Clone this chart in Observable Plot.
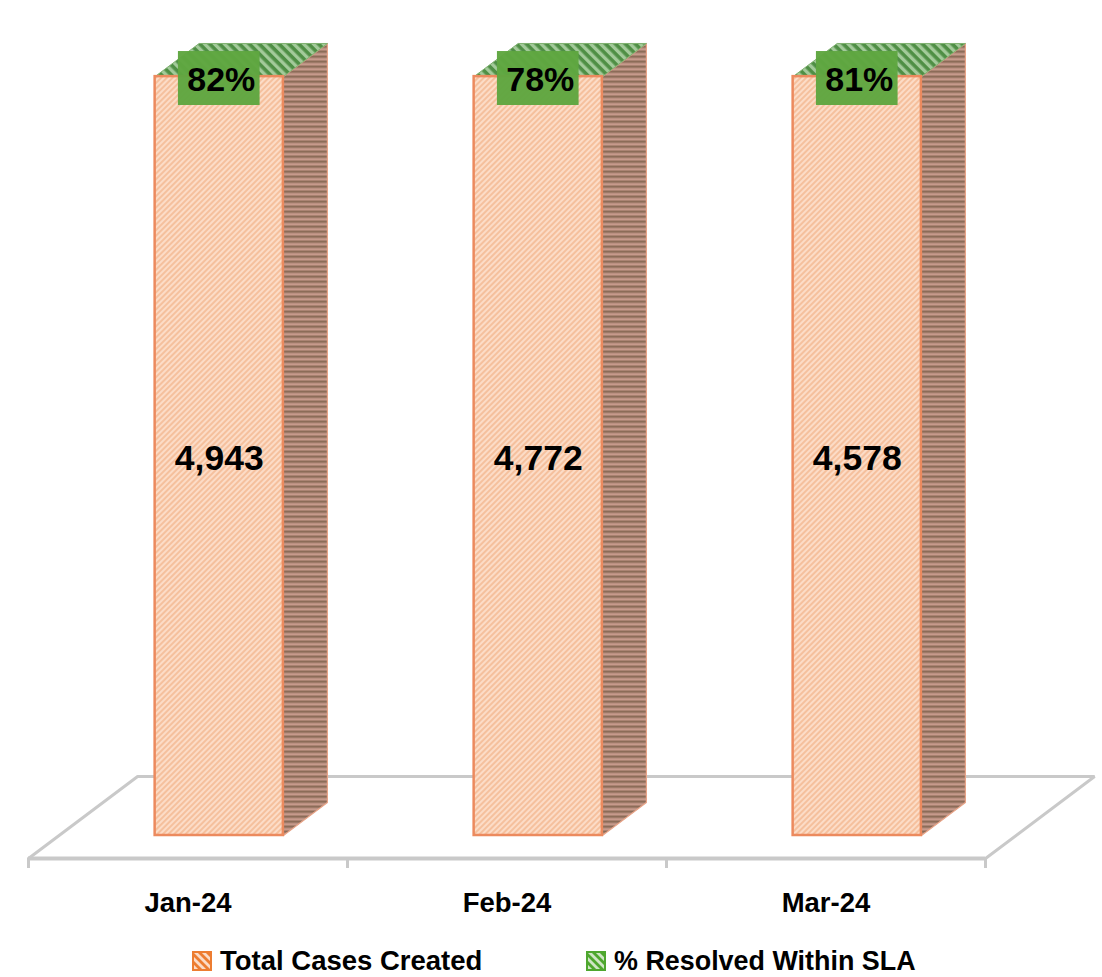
<!DOCTYPE html>
<html><head><meta charset="utf-8">
<script src="https://cdn.jsdelivr.net/npm/d3@7"></script>
<script src="https://cdn.jsdelivr.net/npm/@observablehq/plot@0.6"></script>
<style>
html,body{margin:0;padding:0;background:#fff}
#chart{width:1102px}
svg{display:block}
#legend{position:relative;height:42px;font:700 27.5px "Liberation Sans",Arial,sans-serif;color:#000}
.it{position:absolute;top:8px;line-height:36px;white-space:nowrap}
.it svg{display:inline-block;vertical-align:-1px;margin-right:8px}
</style></head><body>
<div id="chart"></div>
<div id="legend">
<div class="it" style="left:192px"><svg width="20" height="20"><rect x="1" y="1" width="18" height="18" fill="url(#lo)" stroke="#ed7d31" stroke-width="2"/></svg><span id="l0"></span></div>
<div class="it" style="left:586px"><svg width="20" height="20"><rect x="1" y="1" width="18" height="18" fill="url(#lg)" stroke="#4ea72e" stroke-width="2"/></svg><span id="l1" style="font-size:26.9px"></span></div>
</div>
<script>
const categories = ["Jan-24", "Feb-24", "Mar-24"];
const totalCases = [4943, 4772, 4578];
const resolvedPct = [82, 78, 81];
const seriesNames = ["Total Cases Created", "% Resolved Within SLA"];

const font = '"Liberation Sans",Arial,sans-serif';
// 3D construction, in scale units
const halfBar = 0.201, barShift = 0.098, depthX = 0.138, depthY = 0.0435;
const floorFront = -0.0303, floorBack = 0.0777, floorDepthX = 0.342;
const boxHalf = 0.128, boxLow = 0.9618, boxHigh = 1.0329;

const rows = categories.map((c, i) => ({
  c, i,
  cases: totalCases[i], pct: resolvedPct[i],
  cx: i + barShift,
  share: totalCases[i] / (totalCases[i] + resolvedPct[i] / 100)
}));
const side = rows.flatMap(r => [[r.cx+halfBar,0],[r.cx+halfBar+depthX,depthY],[r.cx+halfBar+depthX,1+depthY],[r.cx+halfBar,1]].map(([x,y]) => ({x,y,k:r.c})));
const top3d = rows.flatMap(r => [[r.cx-halfBar,1],[r.cx-halfBar+depthX,1+depthY],[r.cx+halfBar+depthX,1+depthY],[r.cx+halfBar,1]].map(([x,y]) => ({x,y,k:r.c})));
const floor = [[-0.5,floorFront],[-0.5+floorDepthX,floorBack],[2.5+floorDepthX,floorBack],[2.5,floorFront]].map(([x,y]) => ({x,y}));

function pattern(defs, id, size, bg, fg, sw, rot) {
  const p = defs.append("pattern").attr("id", id).attr("patternUnits", "userSpaceOnUse")
    .attr("width", size).attr("height", size).attr("patternTransform", `rotate(${rot})`);
  p.append("rect").attr("width", size).attr("height", size).attr("fill", bg);
  p.append("rect").attr("width", size).attr("height", sw).attr("fill", fg);
}
const defsMark = () => {
  const s = d3.create("svg:g");
  const defs = s.append("defs");
  pattern(defs, "front", 4, "#fcdcc7", "#f5c09d", 2, -45);
  pattern(defs, "sideP", 5, "#c79a8c", "#8c6c58", 2.4, 0);
  pattern(defs, "topP", 7, "#a3ca9a", "#4f8f45", 3.6, 45);
  pattern(defs, "lo", 5.6, "#fbdcc7", "#ed7d31", 2.8, 45);
  pattern(defs, "lg", 5.6, "#cfe5c5", "#4ea72e", 2.8, 45);
  return s.node();
};

const chart = Plot.plot({
  width: 1102, height: 935,
  marginTop: 0, marginRight: 0, marginBottom: 77, marginLeft: 0,
  style: {background: "#fff", fontFamily: font, overflow: "visible"},
  x: {domain: [-0.5, 2.5], range: [28, 985], axis: null},
  y: {domain: [0, 1], range: [835, 76], axis: null},
  marks: [
    defsMark,
    Plot.line(floor, {x: "x", y: "y", stroke: "#c9c9c9", strokeWidth: 3, strokeLinejoin: "miter"}),
    Plot.axisX({
      ticks: [-0.5, 0.5, 1.5, 2.5], tickSize: 10, tickFormat: () => "", stroke: "#c9c9c9", strokeWidth: 3, anchor: "bottom"
    }),
    Plot.ruleY([floorFront], {x1: -0.5, x2: 2.5, stroke: "#c9c9c9", strokeWidth: 4}),
    Plot.axisX({
      ticks: [0, 1, 2], tickSize: 0, tickPadding: 34, tickFormat: d => categories[d],
      fontSize: 27.5, fontWeight: 700, fill: "#000", anchor: "bottom"
    }),
    Plot.line(side, {x: "x", y: "y", z: "k", fill: "url(#sideP)", stroke: "#e8a488", strokeWidth: 1.2}),
    Plot.line(top3d, {x: "x", y: "y", z: "k", fill: "url(#topP)", stroke: "#7fb070", strokeWidth: 1}),
    Plot.rect(rows, {
      x1: r => r.cx - halfBar, x2: r => r.cx + halfBar, y1: 0, y2: "share",
      fill: "url(#front)", stroke: "#ec8a5e", strokeWidth: 2.5
    }),
    Plot.rect(rows, {
      x1: r => r.cx - boxHalf, x2: r => r.cx + boxHalf, y1: boxLow, y2: boxHigh,
      fill: "#5fa640", fillOpacity: 0.97
    }),
    Plot.text(rows, {
      x: "cx", y: "share", text: r => r.pct + "%", fontSize: 34, fontWeight: 700, fill: "#000", dx: 2, dy: 3
    }),
    Plot.text(rows, {
      x: "cx", y: r => r.share / 2, text: r => d3.format(",")(r.cases), fontSize: 35.5, fontWeight: 700, fill: "#000", dy: 3
    })
  ]
});
document.getElementById("chart").append(chart);
document.getElementById("l0").textContent = seriesNames[0];
document.getElementById("l1").textContent = seriesNames[1];
</script>
</body></html>
